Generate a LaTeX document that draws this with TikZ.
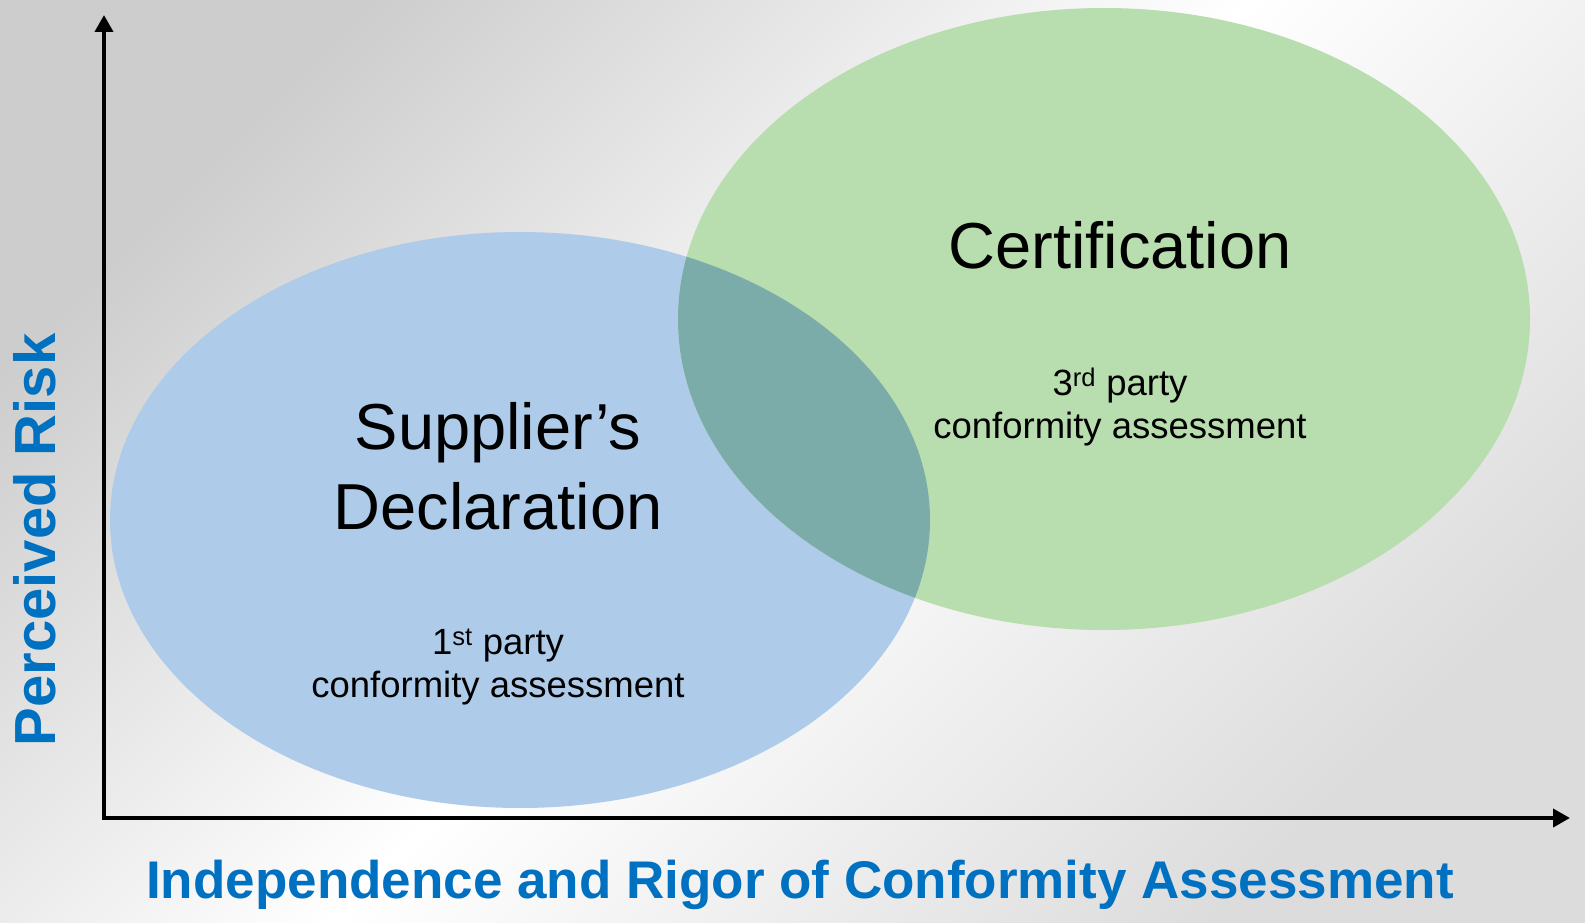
\documentclass[tikz,border=0pt]{standalone}
\usepackage{fontspec}
\setmainfont{Liberation Sans}
\usetikzlibrary{arrows.meta}
\definecolor{bgray}{RGB}{205,205,205}
\definecolor{ablue}{RGB}{0,112,192}
\definecolor{eblue}{RGB}{174,204,234}
\definecolor{egreen}{RGB}{184,221,174}
\definecolor{eover}{RGB}{124,172,170}
\tikzset{
  axis/.style={line width=4pt,-{Triangle[length=17pt,width=18pt]}},
  axlabel/.style={text=ablue,font=\fontsize{53}{60}\selectfont\bfseries,inner sep=0pt},
  bigtext/.style={align=center,font=\fontsize{65}{80}\selectfont,inner sep=0pt},
  smalltext/.style={align=center,font=\fontsize{36.5}{43}\selectfont,inner sep=0pt}
}
\begin{document}
\begin{tikzpicture}[x=1pt,y=-1pt]
\useasboundingbox (0,0) rectangle (1585,923);
\shade[top color=bgray,bottom color=bgray!70,middle color=white,shading angle=45] (0,0) rectangle (1585,923);
% ellipses
\fill[eblue] (520,520) ellipse [x radius=410, y radius=288];
\fill[egreen] (1104,319) ellipse [x radius=426, y radius=311];
\begin{scope}
  \clip (520,520) ellipse [x radius=410, y radius=288];
  \fill[eover] (1104,319) ellipse [x radius=426, y radius=311];
\end{scope}
% axes
\coordinate (O) at (104,818);
\coordinate (Ytop) at (104,15);
\coordinate (Xend) at (1570,818);
\draw[axis] ([yshift=2pt]O) -- (Ytop);
\draw[axis] ([xshift=-2pt]O) -- (Xend);
% texts
\node[bigtext] (cert) at (1120,245) {Certification};
\node[smalltext] (third) at (1120,407) {3\textsuperscript{rd} party\\conformity assessment};
\node[bigtext] (supp) at (498,466) {Supplier’s\\Declaration};
\node[smalltext] (first) at (498,667) {1\textsuperscript{st} party\\conformity assessment};
\node[axlabel] (xlab) at (800,885) {Independence and Rigor of Conformity Assessment};
\node[axlabel,font=\fontsize{58}{64}\selectfont\bfseries,rotate=90] (ylab) at (35,540) {Perceived Risk};
\end{tikzpicture}
\end{document}
